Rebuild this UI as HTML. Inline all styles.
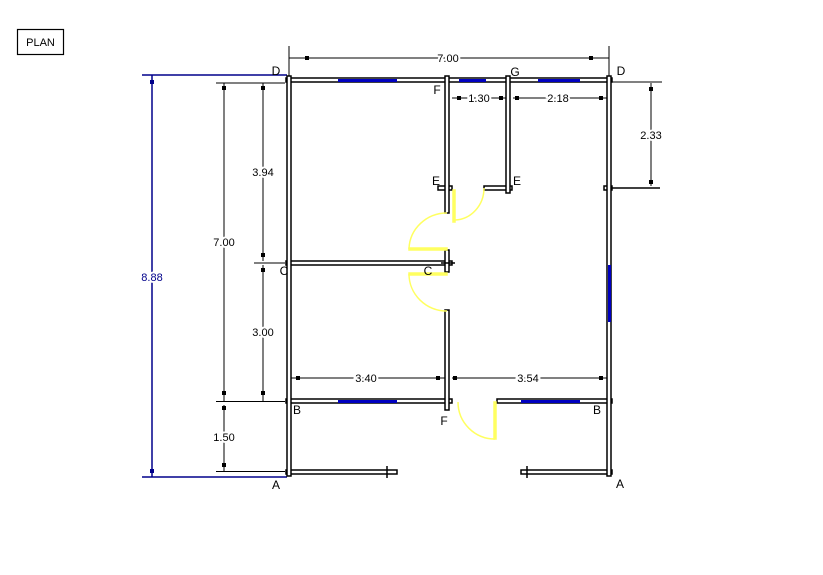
<!DOCTYPE html>
<html><head><style>body{margin:0;background:#fff}svg{display:block}</style></head><body>
<svg width="823" height="575" xmlns="http://www.w3.org/2000/svg" font-family="Liberation Sans, sans-serif">
<rect width="823" height="575" fill="#fff"/>
<rect x="17.5" y="29.5" width="46" height="25" fill="#fff" stroke="#000" stroke-width="1.2"/>
<text x="40.5" y="46" font-size="11" text-anchor="middle">PLAN</text>
<g stroke="#000" stroke-width="1" fill="none">
<!-- top dims -->
<line x1="289" y1="58" x2="609" y2="58"/><line x1="289" y1="46" x2="289" y2="78"/><line x1="609" y1="46" x2="609" y2="78"/>
<line x1="452" y1="98" x2="508" y2="98"/><line x1="513" y1="98" x2="609" y2="98"/>
<line x1="651" y1="83" x2="651" y2="186"/><line x1="612" y1="82" x2="662" y2="82"/>
<line x1="289" y1="378" x2="446" y2="378"/><line x1="452" y1="378" x2="609" y2="378"/>
<!-- left dims -->
<line x1="224" y1="83" x2="224" y2="401"/><line x1="224" y1="405" x2="224" y2="472"/>
<line x1="263" y1="83" x2="263" y2="261"/><line x1="263" y1="265" x2="263" y2="401"/>
<line x1="216" y1="83" x2="285" y2="83"/><line x1="216" y1="401.5" x2="285" y2="401.5"/><line x1="216" y1="471.5" x2="285" y2="471.5"/><line x1="254" y1="263" x2="285" y2="263"/>
</g>
<g fill="#000">
<rect x="305" y="56" width="4" height="4"/><rect x="589" y="56" width="4" height="4"/>
<rect x="457" y="96" width="4" height="4"/><rect x="499" y="96" width="4" height="4"/><rect x="515" y="96" width="4" height="4"/><rect x="599" y="96" width="4" height="4"/>
<rect x="649" y="87" width="4" height="4"/><rect x="649" y="180" width="4" height="4"/>
<rect x="296" y="376" width="4" height="4"/><rect x="436" y="376" width="4" height="4"/><rect x="453" y="376" width="4" height="4"/><rect x="599" y="376" width="4" height="4"/>
<rect x="222" y="86" width="4" height="4"/><rect x="222" y="391" width="4" height="4"/><rect x="222" y="406" width="4" height="4"/><rect x="222" y="463" width="4" height="4"/>
<rect x="261" y="86" width="4" height="4"/><rect x="261" y="253" width="4" height="4"/><rect x="261" y="268" width="4" height="4"/><rect x="261" y="391" width="4" height="4"/>
</g>
<!-- blue 8.88 -->
<g stroke="#00008b" stroke-width="1.5" fill="none">
<line x1="152" y1="75" x2="152" y2="477"/><line x1="142" y1="75" x2="287" y2="75"/><line x1="142" y1="477" x2="287" y2="477"/>
</g>
<rect x="150" y="80" width="4" height="4" fill="#00008b"/><rect x="150" y="469" width="4" height="4" fill="#00008b"/>
<text x="152" y="281" font-size="11" fill="#00008b" text-anchor="middle" stroke="#fff" stroke-width="4" paint-order="stroke">8.88</text>
<!-- walls -->
<g fill="#fff" stroke="#000" stroke-width="1.5">
<rect x="286" y="78" width="326" height="4"/>
<rect x="286" y="399" width="166" height="4"/><rect x="497" y="399" width="115" height="4"/>
<rect x="286" y="470" width="111" height="4"/><rect x="521" y="470" width="91" height="4"/>
<rect x="286" y="261" width="166" height="4"/>
<rect x="438" y="186" width="14" height="4"/><rect x="484" y="186" width="28" height="4"/><rect x="604" y="186" width="8" height="4"/>
<rect x="287" y="76" width="4" height="400"/><rect x="607" y="76" width="4" height="400"/>
<rect x="445" y="76" width="4" height="137"/><rect x="445" y="250" width="4" height="22"/><rect x="445" y="310" width="4" height="100"/>
<rect x="506" y="76" width="4" height="117"/>
</g>
<g stroke="#000" stroke-width="1.5">
<line x1="612" y1="188" x2="660" y2="188"/>
<line x1="387" y1="466" x2="387" y2="478"/><line x1="527" y1="466" x2="527" y2="478"/>
<line x1="441" y1="263" x2="455" y2="263"/>
</g>
<!-- windows -->
<g fill="#0000c0">
<rect x="338" y="79" width="59" height="3"/><rect x="459" y="79" width="27" height="3"/><rect x="538" y="79" width="42" height="3"/>
<rect x="338" y="400" width="59" height="3"/><rect x="521" y="400" width="59" height="3"/>
<rect x="608" y="265" width="3" height="57"/>
</g>
<!-- doors -->
<g stroke="#ffff60" stroke-width="1.5" fill="none">
<rect x="453" y="190" width="2" height="32" fill="#ffff60"/>
<path d="M455 220 A30 32 0 0 0 484 188"/>
<rect x="409" y="248" width="38" height="2" fill="#ffff60"/>
<path d="M409 249 A38 37 0 0 1 447 213"/>
<rect x="409" y="273" width="38" height="2" fill="#ffff60"/>
<path d="M409 274 A38 37 0 0 0 447 311"/>
<rect x="494" y="402" width="2" height="37" fill="#ffff60"/>
<path d="M458 402 A37 37 0 0 0 495 439"/>
</g>
<!-- labels -->
<g font-size="11" text-anchor="middle">
<text x="448" y="62" stroke="#fff" stroke-width="4" paint-order="stroke">7.00</text>
<text x="479" y="102" stroke="#fff" stroke-width="4" paint-order="stroke">1.30</text>
<text x="558" y="102" stroke="#fff" stroke-width="4" paint-order="stroke">2.18</text>
<text x="651" y="139" stroke="#fff" stroke-width="4" paint-order="stroke">2.33</text>
<text x="366" y="382" stroke="#fff" stroke-width="4" paint-order="stroke">3.40</text>
<text x="528" y="382" stroke="#fff" stroke-width="4" paint-order="stroke">3.54</text>
<text x="224" y="246" stroke="#fff" stroke-width="4" paint-order="stroke">7.00</text>
<text x="263" y="176" stroke="#fff" stroke-width="4" paint-order="stroke">3.94</text>
<text x="263" y="336" stroke="#fff" stroke-width="4" paint-order="stroke">3.00</text>
<text x="224" y="441" stroke="#fff" stroke-width="4" paint-order="stroke">1.50</text>
</g>
<g font-size="12" text-anchor="middle">
<text x="276" y="75">D</text><text x="437" y="94">F</text><text x="515" y="76">G</text><text x="621" y="75">D</text>
<text x="436" y="185">E</text><text x="517" y="185">E</text>
<text x="284" y="275">C</text><text x="428" y="275">C</text>
<text x="297" y="414">B</text><text x="444" y="425">F</text><text x="597" y="414">B</text>
<text x="276" y="489">A</text><text x="620" y="488">A</text>
</g>
</svg>
</body></html>
